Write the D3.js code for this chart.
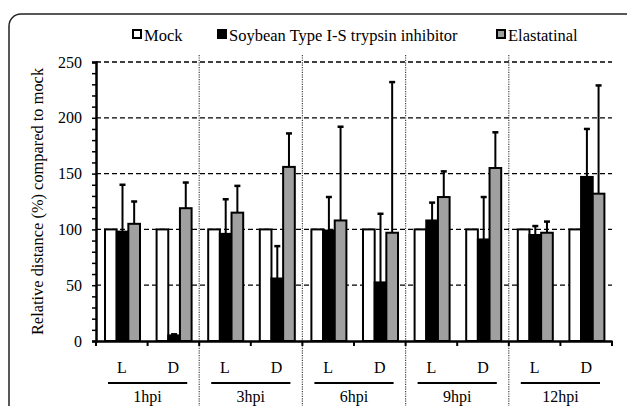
<!DOCTYPE html>
<html>
<head>
<meta charset="utf-8">
<script src="https://cdn.jsdelivr.net/npm/d3@7"></script>
<style>
  html, body { margin: 0; padding: 0; background: #fff; }
  svg text { font-family: "Liberation Serif", "Times New Roman", serif; fill: #000; }
</style>
</head>
<body>
<div id="chart"></div>
<script>
// data
const timepoints = ["1hpi", "3hpi", "6hpi", "9hpi", "12hpi"];
const conditions = ["L", "D"];
const seriesNames = ["Mock", "Soybean Type I-S trypsin inhibitor", "Elastatinal"];
const seriesColors = ["#ffffff", "#000000", "#a0a0a0"];

// one value per (timepoint, condition), order: 1hpi L, 1hpi D, 3hpi L, ...
const mockValues = [100, 100, 100, 100, 100, 100, 100, 100, 100, 100];
const soybeanValues = [98, 5, 96, 56, 99, 52.5, 108, 91, 95, 147];
const soybeanErrTop = [140, 6, 127, 85, 129, 114, 124, 129, 103, 190];
const elastValues = [105, 119, 115, 156, 108, 97, 129, 155, 97, 132];
const elastErrTop = [125, 142, 139, 186, 192, 232, 152, 187, 107, 229];
const yTicks = [0, 50, 100, 150, 200, 250];

const width = 627, height = 406;
const margin = { left: 96, right: 15, top: 62, bottom: 65 };
const serif = "Liberation Serif, Times New Roman, serif";

const svg = d3.select("#chart").append("svg")
  .attr("width", width)
  .attr("height", height);

// rounded frame
svg.append("rect")
  .attr("x", 9).attr("y", 14)
  .attr("width", 640).attr("height", 420)
  .attr("rx", 12)
  .attr("fill", "none")
  .attr("stroke", "#222")
  .attr("stroke-width", 1.5);

const keys = [];
timepoints.forEach((t) => conditions.forEach((c) => keys.push(t + "-" + c)));

const x0 = d3.scaleBand().domain(keys).range([margin.left, width - margin.right]).padding(0);
const xGroup = d3.scaleBand().domain(timepoints).range([margin.left, width - margin.right]).padding(0);
const x1 = d3.scaleBand().domain(d3.range(3)).range([9, 44]).padding(0);
const y = d3.scaleLinear().domain([0, 250]).range([height - margin.bottom, margin.top]);

// horizontal dashed grid
svg.append("g")
  .selectAll("line")
  .data(yTicks.filter((d) => d > 0))
  .join("line")
  .attr("x1", margin.left).attr("x2", width - margin.right)
  .attr("y1", (d) => y(d)).attr("y2", (d) => y(d))
  .attr("stroke", "#000")
  .attr("stroke-width", 1.3)
  .attr("stroke-dasharray", "5,3");

// vertical dotted separators between timepoints
svg.append("g")
  .selectAll("line")
  .data(timepoints.slice(1))
  .join("line")
  .attr("x1", (d) => xGroup(d)).attr("x2", (d) => xGroup(d))
  .attr("y1", 55).attr("y2", 406)
  .attr("stroke", "#444")
  .attr("stroke-width", 1.2)
  .attr("stroke-dasharray", "1.2,1.2");

// bars
const rows = keys.map((k, i) => ({
  key: k,
  bars: [
    { s: 0, v: mockValues[i], err: null },
    { s: 1, v: soybeanValues[i], err: soybeanErrTop[i] },
    { s: 2, v: elastValues[i], err: elastErrTop[i] },
  ],
}));

const groups = svg.append("g")
  .selectAll("g")
  .data(rows)
  .join("g")
  .attr("transform", (d) => `translate(${x0(d.key)},0)`);

// error bars (upper only) drawn behind bars
groups.selectAll("line.err")
  .data((d) => d.bars.filter((b) => b.err != null))
  .join("line")
  .attr("class", "err")
  .attr("x1", (b) => x1(b.s) + x1.bandwidth() / 2)
  .attr("x2", (b) => x1(b.s) + x1.bandwidth() / 2)
  .attr("y1", (b) => y(b.v))
  .attr("y2", (b) => y(b.err))
  .attr("stroke", "#000")
  .attr("stroke-width", 2);

groups.selectAll("line.cap")
  .data((d) => d.bars.filter((b) => b.err != null))
  .join("line")
  .attr("class", "cap")
  .attr("x1", (b) => x1(b.s) + x1.bandwidth() / 2 - 3)
  .attr("x2", (b) => x1(b.s) + x1.bandwidth() / 2 + 3)
  .attr("y1", (b) => y(b.err))
  .attr("y2", (b) => y(b.err))
  .attr("stroke", "#000")
  .attr("stroke-width", 2.5);

groups.selectAll("rect")
  .data((d) => d.bars)
  .join("rect")
  .attr("x", (b) => x1(b.s))
  .attr("width", x1.bandwidth())
  .attr("y", (b) => y(b.v))
  .attr("height", (b) => y(0) - y(b.v))
  .attr("fill", (b) => seriesColors[b.s])
  .attr("stroke", "#000")
  .attr("stroke-width", 2);

// y axis
const yAxis = svg.append("g")
  .attr("transform", `translate(${margin.left},0)`)
  .call(d3.axisLeft(y).tickValues(d3.range(0, 251, 10)).tickSize(4)
    .tickFormat((d) => (d % 50 === 0 ? d : "")));
yAxis.attr("font-family", serif).attr("font-size", 16);
yAxis.select(".domain").attr("stroke-width", 2.5);
yAxis.selectAll(".tick line").attr("stroke-width", 1.5);
yAxis.selectAll(".tick text").attr("x", -14);

// x axis
const xAxis = svg.append("g")
  .attr("transform", `translate(0,${y(0)})`)
  .call(d3.axisBottom(x0).tickValues([]).tickSizeOuter(0));
xAxis.select(".domain").attr("stroke-width", 2.5);
xAxis.selectAll("line.tk")
  .data(keys.concat(["end"]))
  .join("line")
  .attr("class", "tk")
  .attr("x1", (d, i) => margin.left + i * x0.step())
  .attr("x2", (d, i) => margin.left + i * x0.step())
  .attr("y1", 0).attr("y2", 5)
  .attr("stroke", "#000")
  .attr("stroke-width", 2);

// L / D labels
svg.append("g")
  .selectAll("text")
  .data(keys)
  .join("text")
  .attr("x", (d) => x0(d) + x0.bandwidth() / 2)
  .attr("y", 373)
  .attr("text-anchor", "middle")
  .attr("font-size", 16)
  .text((d) => d.split("-")[1]);

// underline per timepoint
svg.append("g")
  .selectAll("line")
  .data(timepoints)
  .join("line")
  .attr("x1", (d) => xGroup(d) + 12)
  .attr("x2", (d) => xGroup(d) + xGroup.bandwidth() - 12)
  .attr("y1", 383).attr("y2", 383)
  .attr("stroke", "#000")
  .attr("stroke-width", 2);

svg.append("g")
  .selectAll("text")
  .data(timepoints)
  .join("text")
  .attr("x", (d) => xGroup(d) + xGroup.bandwidth() / 2)
  .attr("y", 402)
  .attr("text-anchor", "middle")
  .attr("font-size", 16)
  .text((d) => d);

// y title
svg.append("text")
  .attr("transform", `translate(43,${(y(0) + y(250)) / 2}) rotate(-90)`)
  .attr("text-anchor", "middle")
  .attr("font-size", 16.4)
  .text("Relative distance (%) compared to mock");

// legend
const legendX = [133, 218, 497];
const legend = svg.append("g")
  .selectAll("g")
  .data(seriesNames)
  .join("g")
  .attr("transform", (d, i) => `translate(${legendX[i]},30)`);
legend.append("rect")
  .attr("width", 8).attr("height", 8)
  .attr("fill", (d, i) => seriesColors[i])
  .attr("stroke", "#000")
  .attr("stroke-width", 2);
legend.append("text")
  .attr("x", 11)
  .attr("y", 10.5)
  .attr("font-size", 16.5)
  .text((d) => d);
</script>
</body>
</html>
